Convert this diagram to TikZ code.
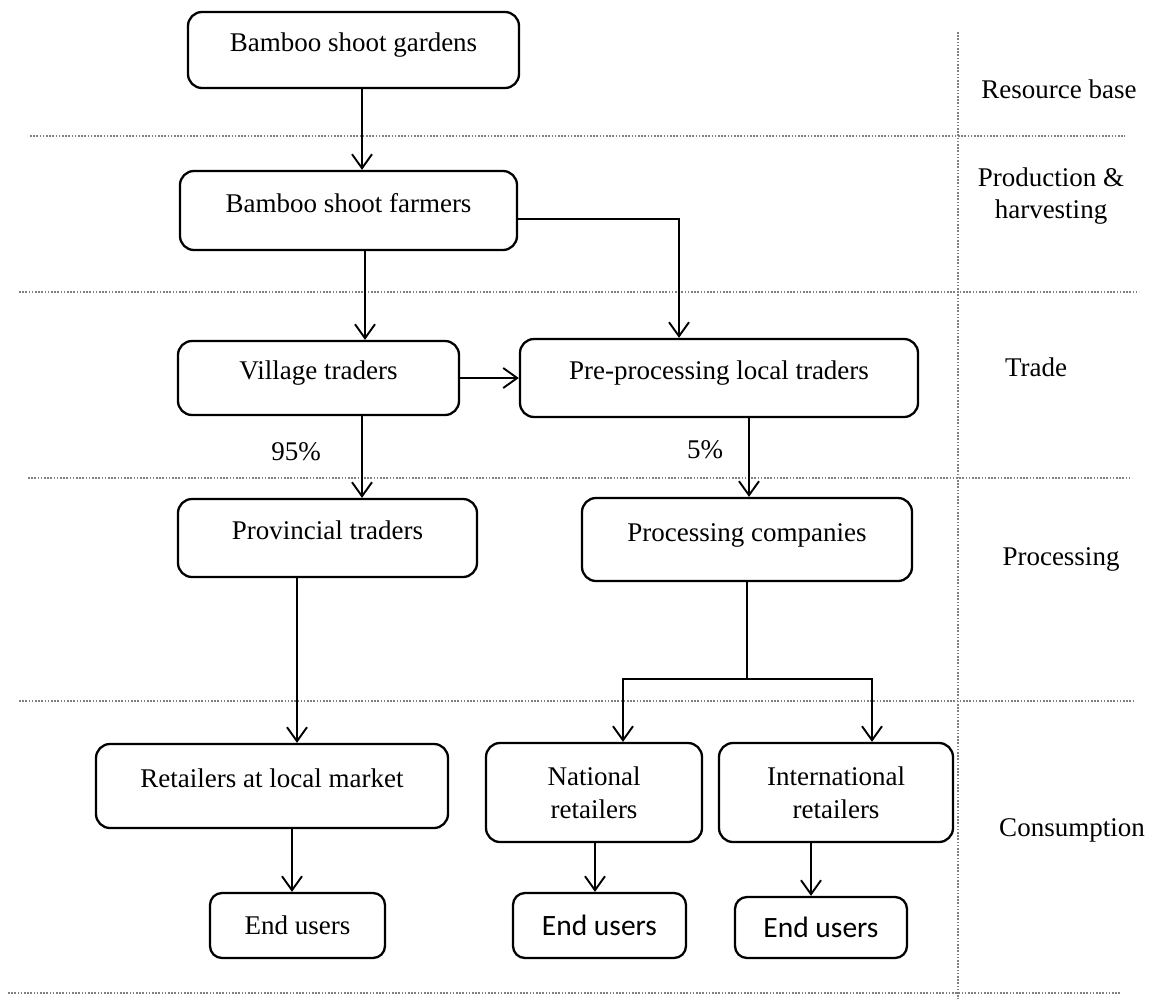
\documentclass[tikz,border=0pt]{standalone}
\usepackage{fontspec}
\setmainfont{Liberation Serif}
\newfontfamily\calib{Carlito}
\usetikzlibrary{arrows.meta}
\tikzset{
  box/.style={draw, line width=2.3pt, rounded corners=14pt, inner sep=0pt,
    font=\fontsize{27}{33}\selectfont, text height=19pt, text depth=16pt},
  boxtwo/.style={draw, line width=2.3pt, rounded corners=14pt, inner sep=0pt,
    align=center, font=\fontsize{27}{33}\selectfont},
  eubox/.style={draw, line width=2.3pt, rounded corners=12pt, inner sep=0pt,
    font=\fontsize{27}{33}\selectfont},
  eusans/.style={eubox, font=\calib\fontsize{29.5}{33}\selectfont},
  arr/.style={line width=1.9pt, -{Straight Barb[length=14pt,width=20pt]}},
  ln/.style={line width=1.9pt},
  lbl/.style={inner sep=0pt, align=center, font=\fontsize{27}{32}\selectfont},
  sep/.style={black!50, line width=1.6pt, dash pattern=on 1.6pt off 1.6pt},
}
\begin{document}
\begin{tikzpicture}[x=1pt,y=-1pt]
\useasboundingbox[fill=white] (0,0) rectangle (1152,999);

% separators
\draw[sep] (30,136) -- (1125,136);
\draw[sep] (19,292) -- (1139,292);
\draw[sep] (28,478) -- (1132,478);
\draw[sep] (19,701) -- (1133,701);
\draw[sep] (8,993) -- (1120,993);
\draw[sep] (958,32) -- (958,999);

% boxes
\node[box, minimum width=331pt, minimum height=76pt] (gardens) at (353.5,50) {Bamboo shoot gardens};
\node[box, minimum width=337pt, minimum height=79pt] (farmers) at (348.5,210.5) {Bamboo shoot farmers};
\node[box, minimum width=281pt, minimum height=74pt] (village) at (318.5,378) {Village traders};
\node[box, minimum width=398pt, minimum height=78pt] (pre) at (719,378) {Pre-processing local traders};
\node[box, minimum width=299pt, minimum height=78pt] (provincial) at (327.5,538) {Provincial traders};
\node[box, minimum width=330pt, minimum height=83pt] (processing) at (747,539.5) {Processing companies};
\node[box, minimum width=352pt, minimum height=84pt] (retailers) at (272,786) {Retailers at local market};
\node[boxtwo, minimum width=216pt, minimum height=99pt] (national) at (594,792.5) {National\\retailers};
\node[boxtwo, minimum width=234pt, minimum height=99pt] (international) at (836,792.5) {International\\retailers};
\node[eubox, minimum width=175pt, minimum height=65pt] (eu1) at (297.5,925.5) {End users};
\node[eusans, minimum width=173pt, minimum height=65pt] (eu2) at (599.5,925.5) {End users};
\node[eusans, minimum width=172pt, minimum height=61pt] (eu3) at (821,927.5) {End users};

% percentage labels
\node[lbl] (p95) at (296,452) {95\%};
\node[lbl] (p5) at (705,450) {5\%};

% stage labels
\node[lbl] (lres) at (1059,89) {Resource base};
\node[lbl] (lprod) at (1051,196.5) {Production \&\\harvesting};
\node[lbl] (ltrade) at (1036,367) {Trade};
\node[lbl] (lproc) at (1061,559.5) {Processing};
\node[lbl] (lcons) at (1072,830) {Consumption};

% connectors
\draw[arr] ([xshift=8.5pt]gardens.south) -- ([xshift=8.5pt]gardens.south |- farmers.north);
\draw[arr] ([xshift=16.5pt]farmers.south) -- ([xshift=16.5pt]farmers.south |- village.north);
\draw[arr] ([yshift=-8.5pt]farmers.east) -| ([xshift=-40pt]pre.north);
\draw[arr] (village.east) -- (pre.west);
\draw[arr] ([xshift=43.5pt]village.south) -- ([xshift=43.5pt]village.south |- provincial.north);
\draw[arr] ([xshift=30pt]pre.south) -- ([xshift=30pt]pre.south |- processing.north);
\draw[arr] ([xshift=-30.5pt]provincial.south) -- ([xshift=-30.5pt]provincial.south |- retailers.north);
\coordinate (split) at (747,679);
\draw[ln] (processing.south) -- (split);
\draw[arr] (split) -| ([xshift=29pt]national.north);
\draw[arr] (split) -| ([xshift=36pt]international.north);
\draw[arr] ([xshift=20pt]retailers.south) -- ([xshift=20pt]retailers.south |- eu1.north);
\draw[arr] ([xshift=1pt]national.south) -- ([xshift=1pt]national.south |- eu2.north);
\draw[arr] ([xshift=-25pt]international.south) -- ([xshift=-25pt]international.south |- eu3.north);
\end{tikzpicture}
\end{document}
